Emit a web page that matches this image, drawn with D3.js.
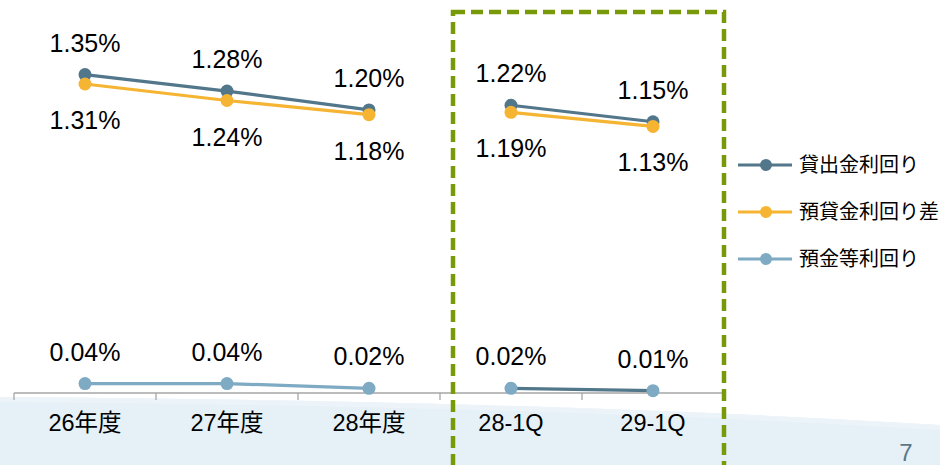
<!DOCTYPE html>
<html><head><meta charset="utf-8">
<script src="https://cdn.jsdelivr.net/npm/d3@7"></script>
<style>
html,body{margin:0;padding:0;background:#fff;}
svg{display:block;font-family:"Liberation Sans",Arial,"Noto Sans CJK JP",sans-serif;}
</style></head>
<body>
<svg id="c" width="940" height="465"></svg>
<script>
const categories = ["26年度","27年度","28年度","28-1Q","29-1Q"];
const groups = [0,0,0,1,1]; // annual vs quarterly segments
const loanYield = [1.35,1.28,1.20,1.22,1.15];
const spread = [1.31,1.24,1.18,1.19,1.13];
const depositYield = [0.04,0.04,0.02,0.02,0.01];
const seriesNames = ["貸出金利回り","預貸金利回り差","預金等利回り"];
const colors = ["#52768a","#f6b433","#7eaac3"];

const svg = d3.select("#c");

// background wave
svg.append("path")
  .attr("d","M0,397 C250,399 600,404 940,425 L940,465 L0,465 Z")
  .attr("fill","#e6f0f7");
svg.append("path")
  .attr("d","M0,397 C250,399 600,404 940,425 L940,430 C600,409 250,404 0,402 Z")
  .attr("fill","#edf4f9");

const x = d3.scaleBand().domain(categories).range([14,724]).padding(0);
const y = d3.scaleLinear().domain([0,1.6]).range([393,15.6]);

// axis
const axisG = svg.append("g").attr("transform","translate(0,393)");
axisG.append("line").attr("x1",14).attr("x2",724).attr("stroke","#a6a6a6").attr("stroke-width",1.3);
const tickXs = categories.map(c=>x(c)).concat([x.range()[1]]);
axisG.selectAll("line.tk").data(tickXs).join("line").attr("class","tk")
  .attr("x1",d=>d).attr("x2",d=>d).attr("y1",0).attr("y2",7)
  .attr("stroke","#a6a6a6").attr("stroke-width",1.3);
svg.selectAll("text.cat").data(categories).join("text").attr("class","cat")
  .attr("x",d=>x(d)+x.bandwidth()/2).attr("y",431)
  .attr("text-anchor","middle").attr("font-size",23.5).attr("fill","#000")
  .text(d=>d);

const cx = i => x(categories[i]) + x.bandwidth()/2;
const data = [loanYield, spread, depositYield];
const lineGen = d3.line().x(d=>cx(d.i)).y(d=>y(d.v));

// draw order: deposit, spread, loan
[2,1,0].forEach(s=>{
  const vals = data[s];
  [0,1].forEach(g=>{
    const pts = vals.map((v,i)=>({v,i})).filter(d=>groups[d.i]===g);
    const col = (s===2 && g===1) ? colors[0] : colors[s];
    svg.append("path").attr("d",lineGen(pts)).attr("fill","none")
      .attr("stroke",col).attr("stroke-width",3.2);
  });
});
[2,0,1].forEach(s=>{
  svg.selectAll(null).data(data[s].map((v,i)=>({v,i}))).join("circle")
    .attr("cx",d=>cx(d.i)).attr("cy",d=>y(d.v)).attr("r",6.5).attr("fill",colors[s]);
});

// labels
const fmt = v => v.toFixed(2)+"%";
const offs = [-23, 45, -23];
[0,1,2].forEach(s=>{
  svg.selectAll(null).data(data[s].map((v,i)=>({v,i}))).join("text")
    .attr("x",d=>cx(d.i)).attr("y",d=>y(d.v)+offs[s])
    .attr("text-anchor","middle").attr("font-size",25).attr("fill","#000")
    .text(d=>fmt(d.v));
});

// dashed box
svg.append("rect").attr("x",453).attr("y",12).attr("width",271).attr("height",460)
  .attr("fill","none").attr("stroke","#789a08").attr("stroke-width",4.5)
  .attr("stroke-dasharray","12,6");

// legend
const leg = svg.append("g");
seriesNames.forEach((n,k)=>{
  const ly = 165 + k*47;
  leg.append("line").attr("x1",738).attr("x2",792).attr("y1",ly).attr("y2",ly)
    .attr("stroke",colors[k]).attr("stroke-width",3.2);
  leg.append("circle").attr("cx",766).attr("cy",ly).attr("r",6).attr("fill",colors[k]);
  leg.append("text").attr("x",799).attr("y",ly+7).attr("font-size",20)
    .attr("font-family","'Noto Sans CJK JP',sans-serif").attr("fill","#000").text(n);
});

// page number
svg.append("text").attr("x",906).attr("y",461).attr("text-anchor","middle")
  .attr("font-size",24).attr("fill","#5a7888").text("7");
</script>
</body></html>
